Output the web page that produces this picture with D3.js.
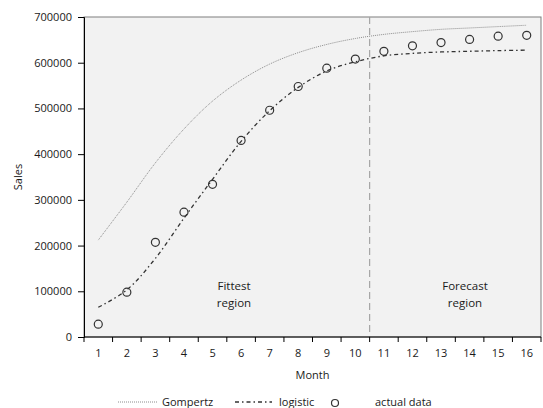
<!DOCTYPE html>
<html>
<head>
<meta charset="utf-8">
<script src="https://cdn.jsdelivr.net/npm/d3@7/dist/d3.min.js"></script>
<style>
  body { margin: 0; background: #fff; }
  text { font-family: "Open Sans", sans-serif; fill: #1a1a1a; }
  .tick text { font-size: 11px; }
</style>
</head>
<body>
<div id="chart"></div>
<script>
const months = d3.range(1, 17);
const actual = [28000, 98000, 207000, 273000, 334000, 430000, 496000, 548000, 588000, 608000,
                625000, 637000, 644000, 651000, 658000, 660000];
const gompertz = [212000, 295000, 381000, 455000, 516000, 562000, 597000, 622000, 640000, 653000,
                  662000, 668000, 673000, 676000, 679000, 682000];
const logistic = [65000, 103000, 172000, 260000, 345000, 428000, 495000, 546000, 582000, 602000,
                  615000, 620500, 623500, 625000, 626500, 627500];
const yTicks = [0, 100000, 200000, 300000, 400000, 500000, 600000, 700000];
const splitMonth = 11;

const W = 543, H = 408;
const margin = {top: 17, right: 2, bottom: 71, left: 84};
const width = W - margin.left - margin.right;
const height = H - margin.top - margin.bottom;

const svg = d3.select('#chart').append('svg')
  .attr('width', W)
  .attr('height', H);

const x = d3.scaleBand()
  .domain(months)
  .range([margin.left, margin.left + width]);

const y = d3.scaleLinear()
  .domain([0, 700000])
  .range([margin.top + height, margin.top]);

const cx = m => x(m) + x.bandwidth() / 2;

// plot background + frame
svg.append('rect')
  .attr('x', margin.left).attr('y', margin.top)
  .attr('width', width).attr('height', height)
  .attr('fill', '#f2f2f2')
  .attr('stroke', '#7f7f7f')
  .attr('stroke-width', 1);

// split line between fit and forecast
svg.append('line')
  .attr('x1', x(splitMonth)).attr('x2', x(splitMonth))
  .attr('y1', margin.top).attr('y2', margin.top + height)
  .attr('stroke', '#a6a6a6')
  .attr('stroke-width', 1.2)
  .attr('stroke-dasharray', '7,4');

// axes
const yAxis = svg.append('g')
  .attr('transform', `translate(${margin.left},0)`)
  .call(d3.axisLeft(y).tickValues(yTicks).tickSize(6).tickPadding(6).tickFormat(d3.format('d')));

const bounds = months.map(m => x(m)).concat([x(16) + x.bandwidth()]);
const xAxis = svg.append('g')
  .attr('transform', `translate(0,${margin.top + height})`);
xAxis.append('path')
  .attr('d', `M${margin.left},0H${margin.left + width}`)
  .attr('stroke', '#000');
xAxis.selectAll('line.tk').data(bounds).enter().append('line')
  .attr('class', 'tk')
  .attr('x1', d => d).attr('x2', d => d)
  .attr('y1', 0).attr('y2', 5)
  .attr('stroke', '#000');
xAxis.selectAll('text.lbl').data(months).enter().append('text')
  .attr('class', 'lbl')
  .attr('x', d => cx(d))
  .attr('y', 20)
  .attr('text-anchor', 'middle')
  .style('font-size', '11px')
  .text(d => d);

yAxis.select('.domain').attr('stroke', '#000');
yAxis.selectAll('.tick line').attr('stroke', '#000');

// axis titles
svg.append('text')
  .attr('x', margin.left + width / 2)
  .attr('y', 379)
  .attr('text-anchor', 'middle')
  .style('font-size', '11px')
  .text('Month');

svg.append('text')
  .attr('transform', `translate(22,${margin.top + height / 2}) rotate(-90)`)
  .attr('text-anchor', 'middle')
  .style('font-size', '11px')
  .text('Sales');

// curves
const line = d3.line()
  .x((d, i) => cx(months[i]))
  .y(d => y(d))
  .curve(d3.curveCatmullRom.alpha(0.5));

svg.append('path')
  .datum(gompertz)
  .attr('d', line)
  .attr('fill', 'none')
  .attr('stroke', '#8c8c8c')
  .attr('stroke-width', 1)
  .attr('stroke-dasharray', '1,1');

svg.append('path')
  .datum(logistic)
  .attr('d', line)
  .attr('fill', 'none')
  .attr('stroke', '#333')
  .attr('stroke-width', 1.3)
  .attr('stroke-dasharray', '4,3,1.5,3');

svg.selectAll('circle.actual').data(actual).enter().append('circle')
  .attr('class', 'actual')
  .attr('cx', (d, i) => cx(months[i]))
  .attr('cy', d => y(d))
  .attr('r', 4)
  .attr('fill', 'none')
  .attr('stroke', '#333')
  .attr('stroke-width', 1.2);

// region labels
const region = (cxPos, lines) => {
  const t = svg.append('text')
    .attr('text-anchor', 'middle')
    .style('font-size', '11.5px');
  lines.forEach((s, i) => t.append('tspan').attr('x', cxPos).attr('y', 290 + i * 17).text(s));
};
region(234, ['Fittest', 'region']);
region(465, ['Forecast', 'region']);

// legend
const ly = 402;
const lg = svg.append('g');
lg.append('line').attr('x1', 118).attr('x2', 157).attr('y1', ly).attr('y2', ly)
  .attr('stroke', '#8c8c8c').attr('stroke-dasharray', '1,1');
lg.append('text').attr('x', 162).attr('y', ly + 4).style('font-size', '11px').text('Gompertz');
lg.append('line').attr('x1', 235).attr('x2', 272).attr('y1', ly).attr('y2', ly)
  .attr('stroke', '#333').attr('stroke-width', 1.3).attr('stroke-dasharray', '4,3,1.5,3');
lg.append('text').attr('x', 279).attr('y', ly + 4).style('font-size', '11px').text('logistic');
lg.append('circle').attr('cx', 335).attr('cy', ly + 1).attr('r', 3.5)
  .attr('fill', 'none').attr('stroke', '#333').attr('stroke-width', 1.2);
lg.append('text').attr('x', 375).attr('y', ly + 4).style('font-size', '11px').text('actual data');
</script>
</body>
</html>
